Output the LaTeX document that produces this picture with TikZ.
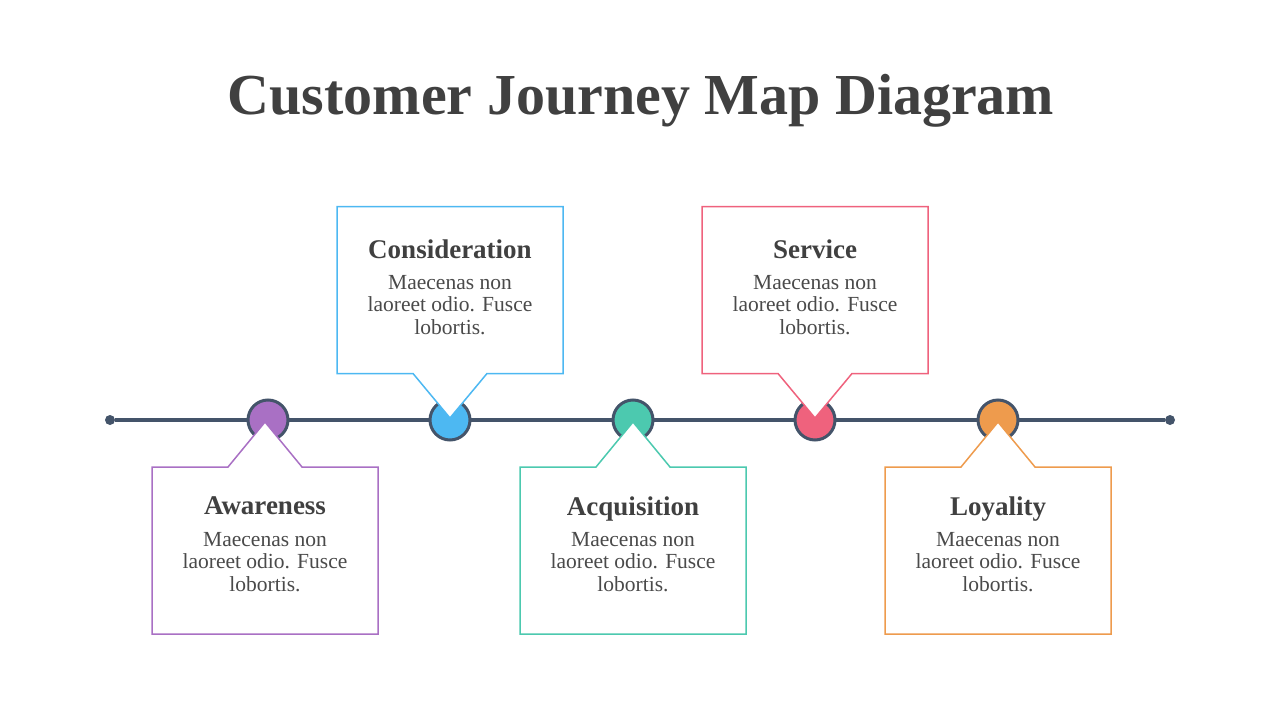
\documentclass[tikz,border=0pt]{standalone}
\usepackage{fontspec}
\setmainfont{Liberation Serif}
\usetikzlibrary{shapes.callouts}

\definecolor{linecol}{HTML}{44546A}
\definecolor{txtcol}{HTML}{404040}
\definecolor{bodycol}{HTML}{4A4A4A}
\definecolor{awcol}{HTML}{A970C4}
\definecolor{cocol}{HTML}{4DB8F2}
\definecolor{accol}{HTML}{4CC9AF}
\definecolor{secol}{HTML}{EF627D}
\definecolor{locol}{HTML}{EE9B4D}

\tikzset{
  stagedot/.style={circle, draw=linecol, fill=#1, line width=3pt, minimum size=40pt, inner sep=0pt},
  enddot/.style={circle, fill=linecol, minimum size=10pt, inner sep=0pt},
  stagebox/.style={rectangle callout, draw=#1, fill=white, line width=1.5pt,
    minimum width=226pt, minimum height=167pt, callout pointer width=74pt, inner sep=0pt},
  stagehead/.style={text=txtcol, text depth=0pt, font=\bfseries\fontsize{27}{30}\selectfont},
  stagebody/.style={text=bodycol, align=center, inner sep=0pt, font=\fontsize{21.5}{22.5}\selectfont}
}

\newcommand{\bodytext}{Maecenas non\\laoreet odio. Fusce\\lobortis.}

\begin{document}
\begin{tikzpicture}[x=1pt, y=-1pt]
\useasboundingbox (0,0) rectangle (1280,720);

\node[text=txtcol, font=\bfseries\fontsize{58}{62}\selectfont] (title) at (641,101) {Customer Journey Map Diagram};

% timeline
\node[enddot] (start) at (110,420) {};
\node[enddot] (stop) at (1170,420) {};
\draw[linecol, line width=3.5pt] (start) -- (stop);

\node[stagedot=awcol] (aw) at (268,420) {};
\node[stagedot=cocol] (co) at (450,420) {};
\node[stagedot=accol] (ac) at (633,420) {};
\node[stagedot=secol] (se) at (815,420) {};
\node[stagedot=locol] (lo) at (998,420) {};

% callouts
\node[stagebox=awcol, callout absolute pointer={(265,422)}] (awbox) at (265,550.5) {};
\node[stagebox=cocol, callout absolute pointer={(450,418)}] (cobox) at (450,290) {};
\node[stagebox=accol, callout absolute pointer={(633,422)}] (acbox) at (633,550.5) {};
\node[stagebox=secol, callout absolute pointer={(815,418)}] (sebox) at (815,290) {};
\node[stagebox=locol, callout absolute pointer={(998,422)}] (lobox) at (998,550.5) {};

% texts
\node[stagehead] (awhead) at (265,506) {Awareness};
\node[stagebody] (awbody) at (265,562) {\bodytext};
\node[stagehead] (cohead) at (450,249) {Consideration};
\node[stagebody] (cobody) at (450,305) {\bodytext};
\node[stagehead] (achead) at (633,506) {Acquisition};
\node[stagebody] (acbody) at (633,562) {\bodytext};
\node[stagehead] (sehead) at (815,249) {Service};
\node[stagebody] (sebody) at (815,305) {\bodytext};
\node[stagehead] (lohead) at (998,506) {Loyality};
\node[stagebody] (lobody) at (998,562) {\bodytext};
\end{tikzpicture}
\end{document}
